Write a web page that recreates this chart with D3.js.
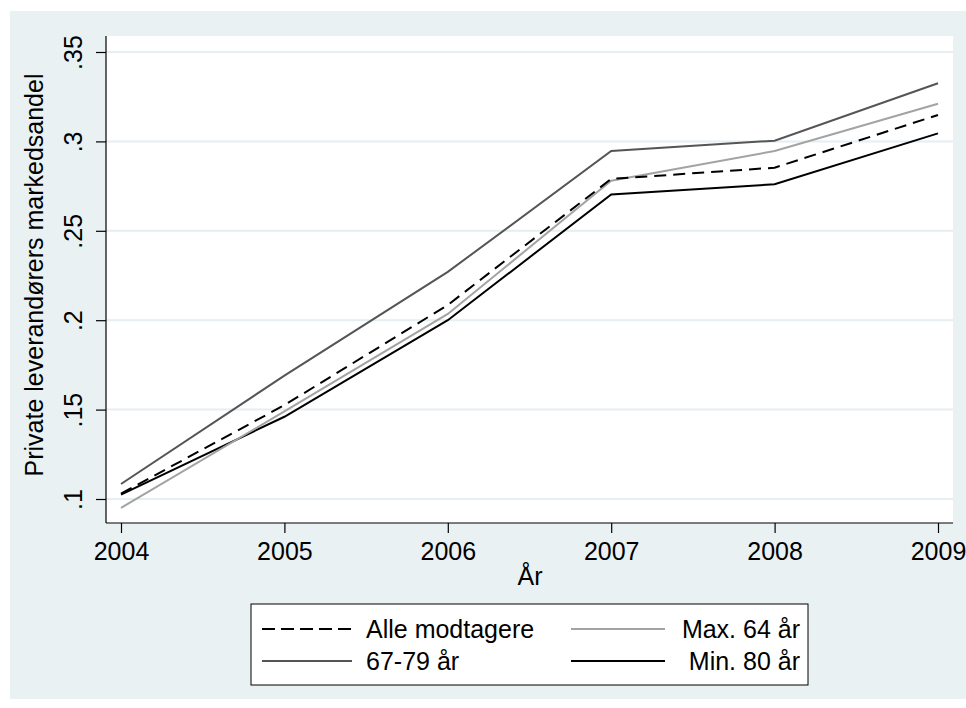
<!DOCTYPE html>
<html><head><meta charset="utf-8">
<script src="https://cdn.jsdelivr.net/npm/d3@7"></script>
<style>body{margin:0;background:#fff}svg{display:block;font-family:Arial,"Liberation Sans",sans-serif}</style>
</head><body><svg id="c" width="966" height="708"></svg>
<script>
const years = [2004, 2005, 2006, 2007, 2008, 2009];
const alleModtagere = [0.1030, 0.1525, 0.2085, 0.2790, 0.2853, 0.3148];
const max64 = [0.0950, 0.1490, 0.2035, 0.2780, 0.2946, 0.3211];
const aar6779 = [0.1084, 0.1690, 0.2270, 0.2946, 0.3004, 0.3325];
const min80 = [0.1025, 0.1460, 0.2000, 0.2703, 0.2760, 0.3045];
const yTicks = [0.1, 0.15, 0.2, 0.25, 0.3, 0.35];
const yTickLabels = [".1", ".15", ".2", ".25", ".3", ".35"];
const seriesNames = ["Alle modtagere", "Max. 64 år", "67-79 år", "Min. 80 år"];

const svg = d3.select("#c");
const W = 966, H = 708;
const P = {l: 106, r: 953, t: 36, b: 523};
const FS = 25;
const x = d3.scaleLinear().domain([2004, 2009]).range([121, 938]);
const y = d3.scaleLinear().domain([0.1, 0.35]).range([499, 52]);

svg.append("rect").attr("x", 0).attr("y", 0).attr("width", W).attr("height", H).attr("fill", "#fff");
svg.append("rect").attr("x", 10).attr("y", 11).attr("width", 956).attr("height", 688).attr("fill", "#eaf1f3");
svg.append("rect").attr("x", P.l).attr("y", P.t).attr("width", P.r - P.l).attr("height", P.b - P.t).attr("fill", "#fff");

// grid
svg.append("g").selectAll("line").data(yTicks).join("line")
  .attr("x1", P.l).attr("x2", P.r).attr("y1", d => y(d)).attr("y2", d => y(d))
  .attr("stroke", "#e6eef1").attr("stroke-width", 2);

// axes
const yAxis = d3.axisLeft(y).tickValues(yTicks).tickSize(10).tickPadding(6)
  .tickFormat((d, i) => yTickLabels[i]);
const gy = svg.append("g").attr("transform", `translate(${P.l},0)`).call(yAxis);
gy.select(".domain").remove();
gy.append("line").attr("x1", 0).attr("x2", 0).attr("y1", P.t).attr("y2", P.b).attr("stroke", "#000").attr("stroke-width", 1.2);
gy.selectAll(".tick line").attr("stroke", "#000").attr("stroke-width", 1.2);
gy.selectAll(".tick text").attr("font-size", FS).attr("fill", "#000")
  .attr("text-anchor", "middle").attr("dy", 0)
  .attr("transform", d => `translate(-24,0) rotate(-90)`).attr("x", 0).attr("y", 0);

const xAxis = d3.axisBottom(x).tickValues(years).tickSize(10).tickPadding(6).tickFormat(d3.format("d"));
const gx = svg.append("g").attr("transform", `translate(0,${P.b})`).call(xAxis);
gx.select(".domain").remove();
gx.append("line").attr("x1", P.l).attr("x2", P.r).attr("y1", 0).attr("y2", 0).attr("stroke", "#000").attr("stroke-width", 1.2);
gx.selectAll(".tick line").attr("stroke", "#000").attr("stroke-width", 1.2);
gx.selectAll(".tick text").attr("font-size", FS).attr("fill", "#000").attr("dy", 0).attr("y", 37);

// axis titles
svg.append("text").attr("x", 530).attr("y", 585).attr("text-anchor", "middle").attr("font-size", FS).text("År");
svg.append("text").attr("transform", "translate(43,275) rotate(-90)").attr("text-anchor", "middle").attr("font-size", FS)
  .text("Private leverandørers markedsandel");

// series
const styles = [
  {name: seriesNames[0], vals: alleModtagere, color: "#000", w: 2, dash: "12,7"},
  {name: seriesNames[1], vals: max64, color: "#a3a3a3", w: 2, dash: null},
  {name: seriesNames[2], vals: aar6779, color: "#555", w: 2, dash: null},
  {name: seriesNames[3], vals: min80, color: "#000", w: 2, dash: null}
];
const line = d3.line().x((d, i) => x(years[i])).y(d => y(d));
const drawOrder = [3, 2, 1, 0];
drawOrder.forEach(k => {
  const s = styles[k];
  svg.append("path").datum(s.vals).attr("d", line).attr("fill", "none")
    .attr("stroke", s.color).attr("stroke-width", s.w)
    .attr("stroke-dasharray", s.dash);
});

// legend
const lg = svg.append("g");
lg.append("rect").attr("x", 251).attr("y", 604).attr("width", 557).attr("height", 81)
  .attr("fill", "#fff").attr("stroke", "#000").attr("stroke-width", 1);
const legPos = [
  {x1: 262, x2: 352, tx: 366, ty: 629},
  {x1: 571, x2: 665, tx: 800, ty: 629, anchor: "end"},
  {x1: 262, x2: 352, tx: 366, ty: 661},
  {x1: 571, x2: 665, tx: 800, ty: 661, anchor: "end"}
];
styles.forEach((s, i) => {
  const p = legPos[i];
  lg.append("line").attr("x1", p.x1).attr("x2", p.x2).attr("y1", p.ty).attr("y2", p.ty)
    .attr("stroke", s.color).attr("stroke-width", s.w).attr("stroke-dasharray", s.dash ? "13,6" : null);
  lg.append("text").attr("x", p.tx).attr("y", p.ty + 9).attr("font-size", FS)
    .attr("text-anchor", p.anchor || "start").text(s.name);
});
</script></body></html>
